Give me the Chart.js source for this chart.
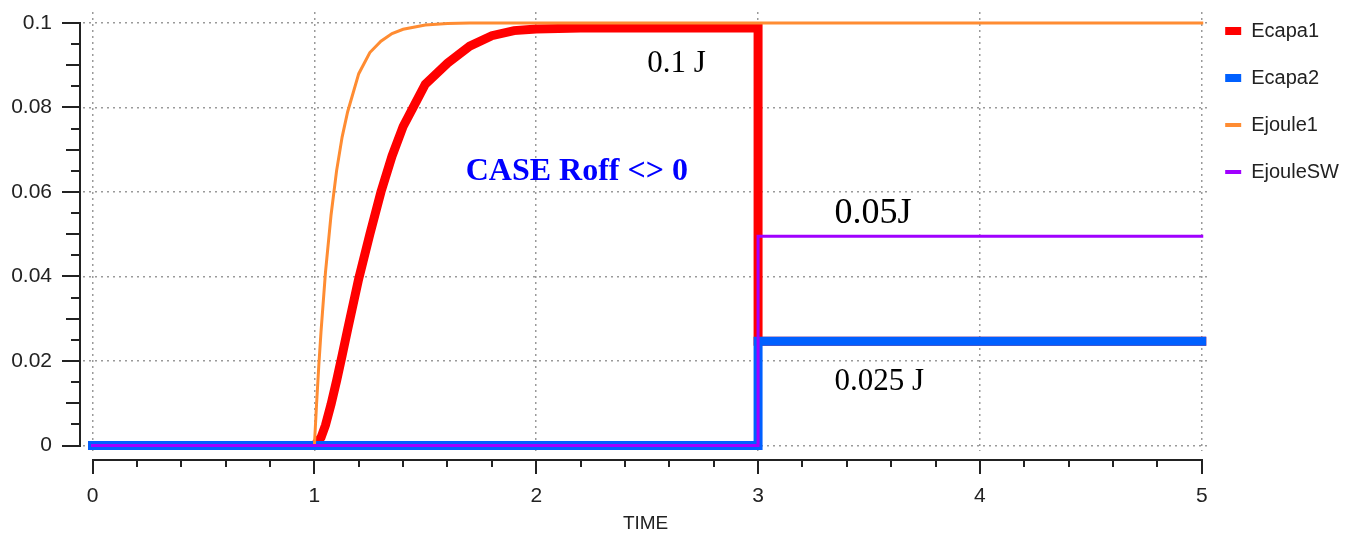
<!DOCTYPE html>
<html>
<head>
<meta charset="utf-8">
<script src="https://cdn.jsdelivr.net/npm/chart.js@4.4.1/dist/chart.umd.min.js"></script>
<style>
html,body{margin:0;padding:0;background:#ffffff;}
#wrap{width:1359px;height:537px;position:relative;}
</style>
</head>
<body>
<div id="wrap"><canvas id="c" width="1359" height="537"></canvas></div>
<script>
// ---------- data ----------
const seriesNames = ['Ecapa1', 'Ecapa2', 'Ejoule1', 'EjouleSW'];

const ecapa1Time   = [0, 1, 1.03, 1.05, 1.075, 1.1, 1.125, 1.15, 1.2, 1.25, 1.3, 1.35, 1.4, 1.45, 1.5, 1.6, 1.7, 1.8, 1.9, 2.0, 2.2, 2.5, 3.0, 3.0, 5.0];
const ecapa1Energy = [0, 0, 0.0019, 0.0048, 0.0097, 0.0153, 0.0213, 0.0275, 0.0395, 0.0500, 0.0600, 0.0685, 0.0755, 0.0805, 0.0855, 0.0905, 0.0945, 0.0970, 0.0982, 0.0986, 0.0988, 0.0988, 0.0988, 0.0247, 0.0247];

const ecapa2Time   = [0, 3.0, 3.0, 5.0];
const ecapa2Energy = [0, 0, 0.0247, 0.0247];

const ejoule1Time   = [0, 1, 1.01, 1.02, 1.03, 1.05, 1.075, 1.1, 1.125, 1.15, 1.2, 1.25, 1.3, 1.35, 1.4, 1.5, 1.6, 1.7, 5.0];
const ejoule1Energy = [0, 0, 0.0100, 0.0190, 0.0270, 0.0410, 0.0545, 0.0650, 0.0730, 0.0790, 0.0880, 0.0930, 0.0957, 0.0975, 0.0985, 0.0995, 0.0999, 0.1000, 0.1000];

const ejouleSWTime   = [0, 3.0, 3.0, 5.0];
const ejouleSWEnergy = [0, 0, 0.0495, 0.0495];

const xTickValues = [0, 1, 2, 3, 4, 5];
const xTickLabels = ['0', '1', '2', '3', '4', '5'];
const yTickValues = [0, 0.02, 0.04, 0.06, 0.08, 0.1];
const yTickLabels = ['0', '0.02', '0.04', '0.06', '0.08', '0.1'];
const xMinorStep = 0.2;
const yMinorStep = 0.005;
const xAxisTitle = 'TIME';

const annotationTexts = ['0.1 J', 'CASE Roff <> 0', '0.05J', '0.025 J'];

// ---------- build ----------
function pts(t, e) { return t.map((v, i) => ({x: v, y: e[i]})); }

const seriesColors = ['#ff0000', '#0060ff', '#ff8c32', '#a000ff'];

const datasets = [
  {label: seriesNames[0], data: pts(ecapa1Time, ecapa1Energy), borderColor: seriesColors[0], backgroundColor: seriesColors[0], borderWidth: 9, order: 4, legendStyle: 'rect'},
  {label: seriesNames[1], data: pts(ecapa2Time, ecapa2Energy), borderColor: seriesColors[1], backgroundColor: seriesColors[1], borderWidth: 9, order: 3, legendStyle: 'rect'},
  {label: seriesNames[2], data: pts(ejoule1Time, ejoule1Energy), borderColor: seriesColors[2], backgroundColor: seriesColors[2], borderWidth: 3, order: 2, legendStyle: 'line'},
  {label: seriesNames[3], data: pts(ejouleSWTime, ejouleSWEnergy), borderColor: seriesColors[3], backgroundColor: seriesColors[3], borderWidth: 3, order: 1, legendStyle: 'line'}
].map(d => Object.assign(d, {
  pointRadius: 0, pointHoverRadius: 0, tension: 0, fill: false,
  borderCapStyle: 'square', borderJoinStyle: 'miter'
}));

const annotations = [
  {text: annotationTexts[0], x: 2.50, y: 0.0884, font: '31px "Liberation Serif"', color: '#000000'},
  {text: annotationTexts[1], x: 1.682, y: 0.0628, font: 'bold 32px "Liberation Serif"', color: '#0000ff'},
  {text: annotationTexts[2], x: 3.345, y: 0.0527, font: '36px "Liberation Serif"', color: '#000000'},
  {text: annotationTexts[3], x: 3.345, y: 0.0131, font: '31px "Liberation Serif"', color: '#000000'}
];

const annotationPlugin = {
  id: 'textNotes',
  afterDatasetsDraw(chart) {
    const {ctx, scales: {x, y}} = chart;
    ctx.save();
    ctx.textAlign = 'left';
    ctx.textBaseline = 'alphabetic';
    annotations.forEach(a => {
      ctx.font = a.font;
      ctx.fillStyle = a.color;
      ctx.fillText(a.text, x.getPixelForValue(a.x), y.getPixelForValue(a.y));
    });
    ctx.restore();
  }
};

const axisPlugin = {
  id: 'offsetAxes',
  afterDraw(chart) {
    const {ctx, chartArea, scales: {x, y}} = chart;
    ctx.save();
    ctx.strokeStyle = '#222222';
    ctx.lineWidth = 2;
    ctx.lineCap = 'butt';
    // y axis
    const yMin = yTickValues[0], yMax = yTickValues[yTickValues.length - 1];
    const ax = Math.round(chartArea.left) - 3;
    const yTop = Math.round(y.getPixelForValue(yMax));
    const yBot = Math.round(y.getPixelForValue(yMin));
    ctx.beginPath();
    ctx.moveTo(ax, yTop - 1);
    ctx.lineTo(ax, yBot + 1);
    const nY = Math.round((yMax - yMin) / yMinorStep);
    for (let i = 0; i <= nY; i++) {
      const p = Math.round(y.getPixelForValue(yMin + i * yMinorStep));
      const len = (i % 4 === 0) ? 18 : (i % 2 === 0 ? 14 : 9);
      ctx.moveTo(ax - len, p);
      ctx.lineTo(ax, p);
    }
    // x axis
    const xMin = xTickValues[0], xMax = xTickValues[xTickValues.length - 1];
    const ay = Math.round(chartArea.bottom) + 9;
    const xL = Math.round(x.getPixelForValue(xMin));
    const xR = Math.round(x.getPixelForValue(xMax));
    ctx.moveTo(xL - 1, ay);
    ctx.lineTo(xR + 1, ay);
    const nX = Math.round((xMax - xMin) / xMinorStep);
    for (let i = 0; i <= nX; i++) {
      const p = Math.round(x.getPixelForValue(xMin + i * xMinorStep));
      const len = (i % 5 === 0) ? 14 : 7;
      ctx.moveTo(p, ay);
      ctx.lineTo(p, ay + len);
    }
    ctx.stroke();
    ctx.restore();
  }
};

const legendShiftPlugin = {
  id: 'legendShift',
  afterLayout(chart) {
    const lg = chart.legend;
    if (!lg) return;
    const dx = -10, dy = -18;
    lg.left += dx; lg.right += dx;
    lg.top += dy; lg.bottom += dy;
  }
};

new Chart(document.getElementById('c'), {
  type: 'line',
  data: {datasets},
  plugins: [annotationPlugin, axisPlugin, legendShiftPlugin],
  options: {
    responsive: false,
    animation: false,
    events: [],
    layout: {padding: {top: 12, left: 0, right: 0, bottom: 0}},
    plugins: {
      tooltip: {enabled: false},
      title: {display: false},
      legend: {
        display: true,
        position: 'right',
        align: 'start',
        labels: {
          usePointStyle: true,
          pointStyleWidth: 16,
          boxWidth: 16,
          boxHeight: 8,
          padding: 27,
          color: '#222222',
          font: {family: '"Liberation Sans", Arial, sans-serif', size: 20},
          sort: (a, b) => a.datasetIndex - b.datasetIndex,
          generateLabels(chart) {
            const items = Chart.defaults.plugins.legend.labels.generateLabels(chart);
            items.forEach(it => {
              const ds = chart.data.datasets[it.datasetIndex];
              it.pointStyle = ds.legendStyle;
              it.fillStyle = ds.borderColor;
              it.strokeStyle = ds.borderColor;
              it.lineWidth = ds.legendStyle === 'line' ? 4 : 0;
              it.fontColor = '#222222';
            });
            return items;
          }
        }
      }
    },
    scales: {
      x: {
        type: 'linear',
        min: -0.043,
        max: 5.029,
        afterBuildTicks(scale) { scale.ticks = xTickValues.map(v => ({value: v})); },
        afterFit(scale) { scale.height = 86; scale.paddingLeft = 0; scale.paddingRight = 0; },
        ticks: {
          padding: 33,
          color: '#222222',
          font: {family: '"Liberation Sans", Arial, sans-serif', size: 21},
          callback: (v, i) => xTickLabels[i],
          maxRotation: 0,
          autoSkip: false
        },
        grid: {color: '#9a9a9a', lineWidth: 1.5, drawTicks: false},
        border: {display: false, dash: [2, 4]},
        title: {
          display: true,
          text: xAxisTitle,
          color: '#222222',
          font: {family: '"Liberation Sans", Arial, sans-serif', size: 19},
          padding: {top: 0, bottom: 2}
        }
      },
      y: {
        type: 'linear',
        min: -0.0013,
        max: 0.1026,
        afterBuildTicks(scale) { scale.ticks = yTickValues.map(v => ({value: v})); },
        afterFit(scale) { scale.width = 83; scale.paddingTop = 0; scale.paddingBottom = 0; },
        ticks: {
          padding: 31,
          color: '#222222',
          font: {family: '"Liberation Sans", Arial, sans-serif', size: 21},
          callback: (v, i) => yTickLabels[i],
          autoSkip: false
        },
        grid: {color: '#9a9a9a', lineWidth: 1.5, drawTicks: false},
        border: {display: false, dash: [2, 4]}
      }
    }
  }
});
</script>
</body>
</html>
